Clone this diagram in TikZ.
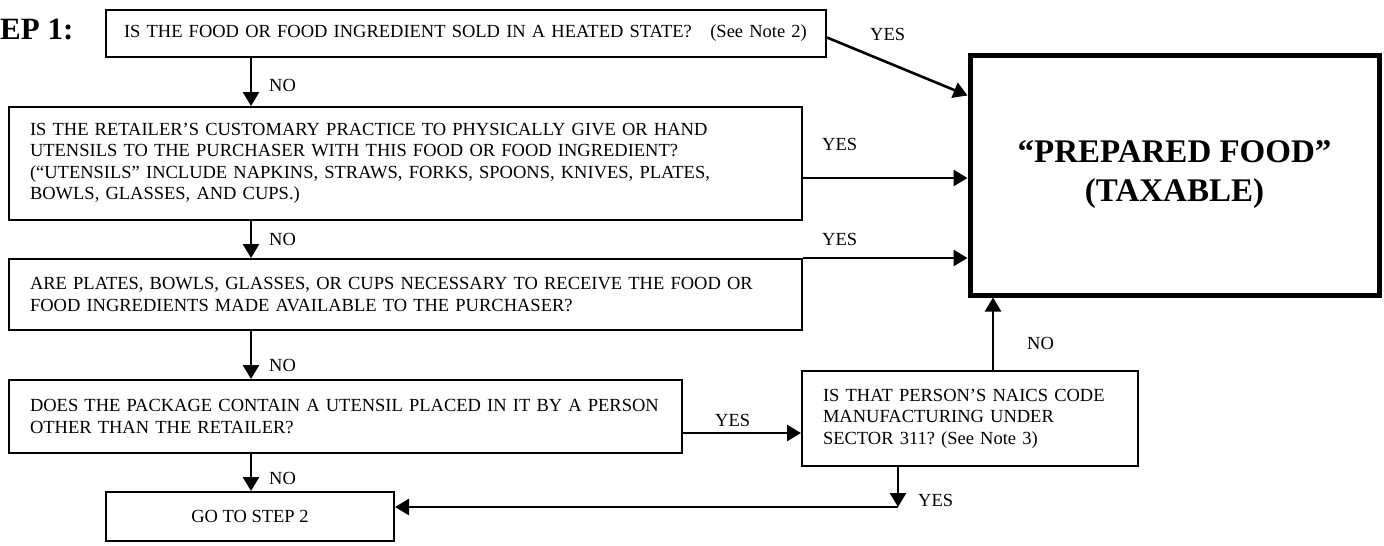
\documentclass[tikz,border=0pt]{standalone}
\usepackage{fontspec}
\setmainfont{Liberation Serif}
\usetikzlibrary{arrows.meta,calc}
\frenchspacing
\begin{document}
\begin{tikzpicture}[x=1pt,y=-1pt,
  txt/.style={font=\fontsize{18.5}{21.5}\selectfont},
  box/.style={draw,line width=2pt,inner sep=0pt,txt},
  lbl/.style={anchor=west,inner sep=0pt,txt},
  arr/.style={line width=2.6pt,-{Triangle[length=14pt,width=16pt]}},
  conn/.style={line width=2.6pt}]
\useasboundingbox (0,0) rectangle (1384,546);

\node[anchor=west,inner sep=0pt,font=\fontsize{31}{37}\selectfont\bfseries] (step) at (0,29) {EP 1:};

\node[box,minimum width=720,minimum height=47,text width=684,align=left] (b1) at (466,33.5)
  {IS THE FOOD OR FOOD INGREDIENT SOLD IN A HEATED STATE?\ \ \ (See Note 2)};
\node[box,minimum width=793,minimum height=113,text width=751,align=left] (b2) at (405.5,163.5)
  {IS THE RETAILER’S CUSTOMARY PRACTICE TO PHYSICALLY GIVE OR HAND\\
   UTENSILS TO THE PURCHASER WITH THIS FOOD OR FOOD INGREDIENT?\\
   (“UTENSILS” INCLUDE NAPKINS, STRAWS, FORKS, SPOONS, KNIVES, PLATES,\\
   BOWLS, GLASSES, AND CUPS.)};
\node[box,minimum width=793,minimum height=71,text width=751,align=left] (b3) at (405.5,294.5)
  {ARE PLATES, BOWLS, GLASSES, OR CUPS NECESSARY TO RECEIVE THE FOOD OR\\
   FOOD INGREDIENTS MADE AVAILABLE TO THE PURCHASER?};
\node[box,minimum width=673,minimum height=73,text width=631,align=left] (b4) at (345.5,416.5)
  {DOES THE PACKAGE CONTAIN A UTENSIL PLACED IN IT BY A PERSON\\
   OTHER THAN THE RETAILER?};
\node[box,minimum width=288,minimum height=49,align=center] (b5) at (250,516.5)
  {GO TO STEP 2};
\node[box,minimum width=336,minimum height=95,text width=294,align=left] (b6) at (970,418.5)
  {IS THAT PERSON’S NAICS CODE\\
   MANUFACTURING UNDER\\
   SECTOR 311? (See Note 3)};
\node[draw,line width=5pt,inner sep=0pt,minimum width=409,minimum height=240,align=center,
  font=\fontsize{33}{39}\selectfont\bfseries] (pf) at (1174.5,175)
  {“PREPARED FOOD”\\(TAXABLE)};

\coordinate (spine) at (251,0);
\coordinate (up) at (993,0);
\coordinate (corner) at (898,507);
\coordinate (s1) at ($(b1.east)+(0,4)$);
\coordinate (e1) at ($(pf.north west)+(0,43)$);
\coordinate (s2) at ($(b2.east)+(0,14.5)$);
\coordinate (s4) at ($(b4.east)+(0,16.5)$);

% NO chain
\draw[arr] (b1.south -| spine) -- (b2.north -| spine);
\draw[arr] (b2.south -| spine) -- (b3.north -| spine);
\draw[arr] (b3.south -| spine) -- (b4.north -| spine);
\draw[arr] (b4.south -| spine) -- (b5.north -| spine);
\node[lbl] (n1) at (269,85) {NO};
\node[lbl] (n2) at (269,239) {NO};
\node[lbl] (n3) at (269,365) {NO};
\node[lbl] (n4) at (269,478) {NO};

% YES to prepared food
\draw[arr] (s1) -- (e1);
\node[lbl] (y1) at (870,34) {YES};
\draw[arr] (s2) -- (s2 -| pf.west);
\node[lbl] (y2) at (822,144) {YES};
\draw[arr] (b3.north east) -- (b3.north east -| pf.west);
\node[lbl] (y3) at (822,239) {YES};

% b4 -> b6
\draw[arr] (s4) -- (s4 -| b6.west);
\node[lbl] (y4) at (715,420) {YES};

% b6 -> pf
\draw[arr] (b6.north -| up) -- (pf.south -| up);
\node[lbl] (n5) at (1027,343) {NO};

% b6 -> b5
\draw[arr] (b6.south -| corner) -- (corner);
\draw[arr] (corner) -- (corner -| b5.east);
\node[lbl] (y5) at (918,500) {YES};
\end{tikzpicture}
\end{document}
